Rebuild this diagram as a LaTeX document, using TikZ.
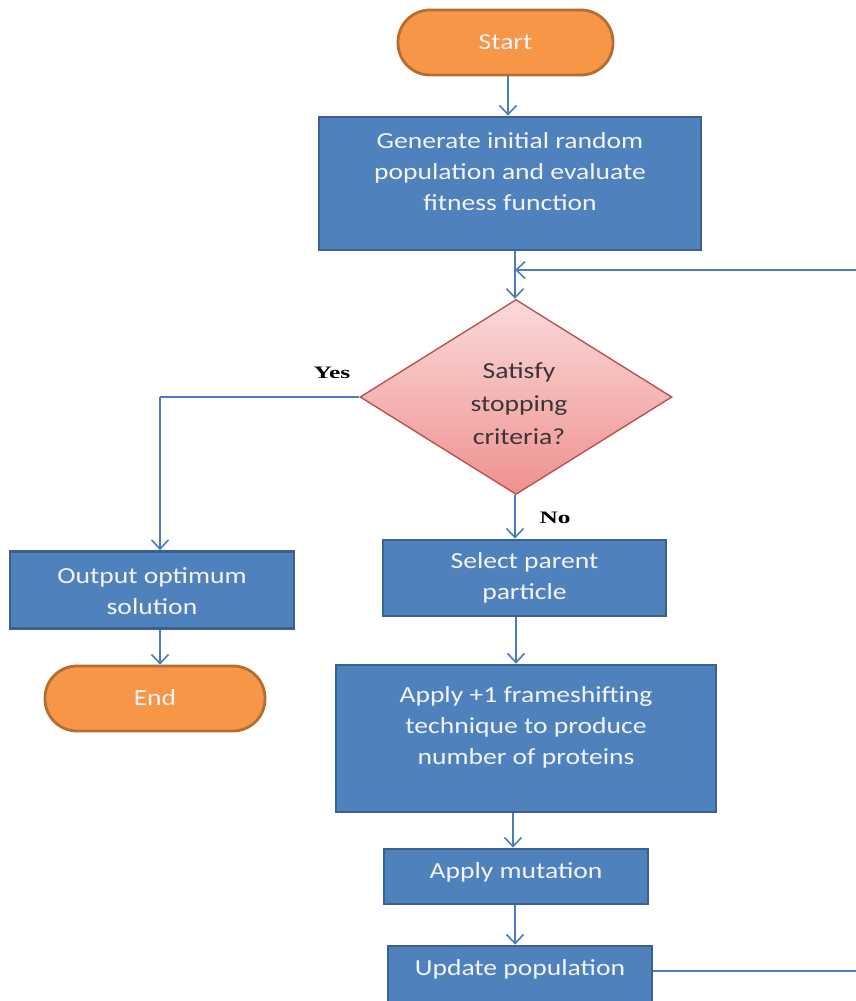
\documentclass[tikz,border=0pt]{standalone}
\usepackage{fontspec}
\setmainfont{Carlito}
\newfontfamily\yesnofont{Liberation Serif}
\usetikzlibrary{arrows.meta,shapes.geometric}
\definecolor{boxfill}{HTML}{4F81BD}
\definecolor{boxline}{HTML}{3A6190}
\definecolor{arrowc}{HTML}{4A7EBB}
\definecolor{termfill}{HTML}{F79646}
\definecolor{termline}{HTML}{B66D31}
\definecolor{dtop}{HTML}{FADADA}
\definecolor{dbot}{HTML}{F09090}
\definecolor{dline}{HTML}{B85450}
\definecolor{txtc}{HTML}{F2F4F6}
\tikzset{
  procbox/.style={draw=boxline, fill=boxfill, line width=2.8pt, rectangle, inner sep=0pt},
  term/.style={draw=termline, fill=termfill, line width=2.8pt, rectangle, rounded corners=32pt, inner sep=0pt},
  decis/.style={diamond, draw=dline, line width=1.4pt, top color=dtop, bottom color=dbot, inner sep=0pt, minimum width=312pt, minimum height=195pt},
  btext/.style={text=txtc, font=\fontsize{23}{31}\selectfont, align=center, xscale=1.2, transform shape},
  lbl/.style={font=\yesnofont\bfseries\fontsize{17.5}{20}\selectfont, text=black, xscale=1.45, transform shape},
  conn/.style={draw=arrowc, line width=1.6pt, -{Straight Barb[length=9pt,width=17pt,line width=1.6pt]}},
  plain/.style={draw=arrowc, line width=1.6pt}
}
\begin{document}
\begin{tikzpicture}[x=1pt,y=-1pt]
\useasboundingbox (0,0) rectangle (856,1001);
% nodes
\node[term, minimum width=215pt, minimum height=65pt] (start) at (505.5,42.5) {};
\node[btext] at (505.5,42) {Start};
\node[procbox, minimum width=382pt, minimum height=133pt] (gen) at (510,183.5) {};
\node[btext] at (510,172) {Generate initial random\\population and evaluate\\fitness function};
\node[decis] (dec) at (516,397) {};
\node[btext, text=black!78, font=\fontsize{23}{33}\selectfont] at (519,404) {Satisfy\\stopping\\criteria?};
\node[procbox, minimum width=284pt, minimum height=77pt] (out) at (152,590) {};
\node[btext] at (152,591) {Output optimum\\solution};
\node[term, minimum width=220pt, minimum height=65pt] (end) at (155,698.5) {};
\node[btext] at (155,698) {End};
\node[procbox, minimum width=283pt, minimum height=76pt] (sel) at (524.5,578) {};
\node[btext] at (524.5,578) {Select parent\\particle};
\node[procbox, minimum width=380pt, minimum height=147pt] (fs) at (526,738.5) {};
\node[btext] at (526,727) {Apply +1 frameshifting\\technique to produce\\number of proteins};
\node[procbox, minimum width=264pt, minimum height=55pt] (mut) at (516,876.5) {};
\node[btext] at (516,872) {Apply mutation};
\node[procbox, minimum width=264pt, minimum height=56pt] (upd) at (520,974) {};
\node[btext] at (520,969) {Update population};
% labels
\node[lbl] (yes) at (332,373) {Yes};
\node[lbl] (no) at (555,518) {No};
% coordinates
\coordinate (loopin) at (856,270);
\coordinate (loopout) at (856,971);
\coordinate (yescorner) at (160,397);
% connectors
\draw[conn] (start.south -| 508,0) -- (gen.north -| 508,0);
\draw[conn] (gen.south -| 515,0) -- (dec.north -| 515,0);
\draw[conn] (loopin) -- (515,270);
\draw[plain] (dec.west) -- (dec.west -| yescorner);
\draw[conn] (dec.west -| yescorner) -- (out.north -| yescorner);
\draw[conn] (out.south -| 160,0) -- (end.north -| 160,0);
\draw[conn] (dec.south -| 515,0) -- (sel.north -| 515,0);
\draw[conn] (sel.south -| 516,0) -- (fs.north -| 516,0);
\draw[conn] (fs.south -| 513,0) -- (mut.north -| 513,0);
\draw[conn] (mut.south -| 515,0) -- (upd.north -| 515,0);
\draw[plain] (upd.east |- loopout) -- (loopout);
\end{tikzpicture}
\end{document}
